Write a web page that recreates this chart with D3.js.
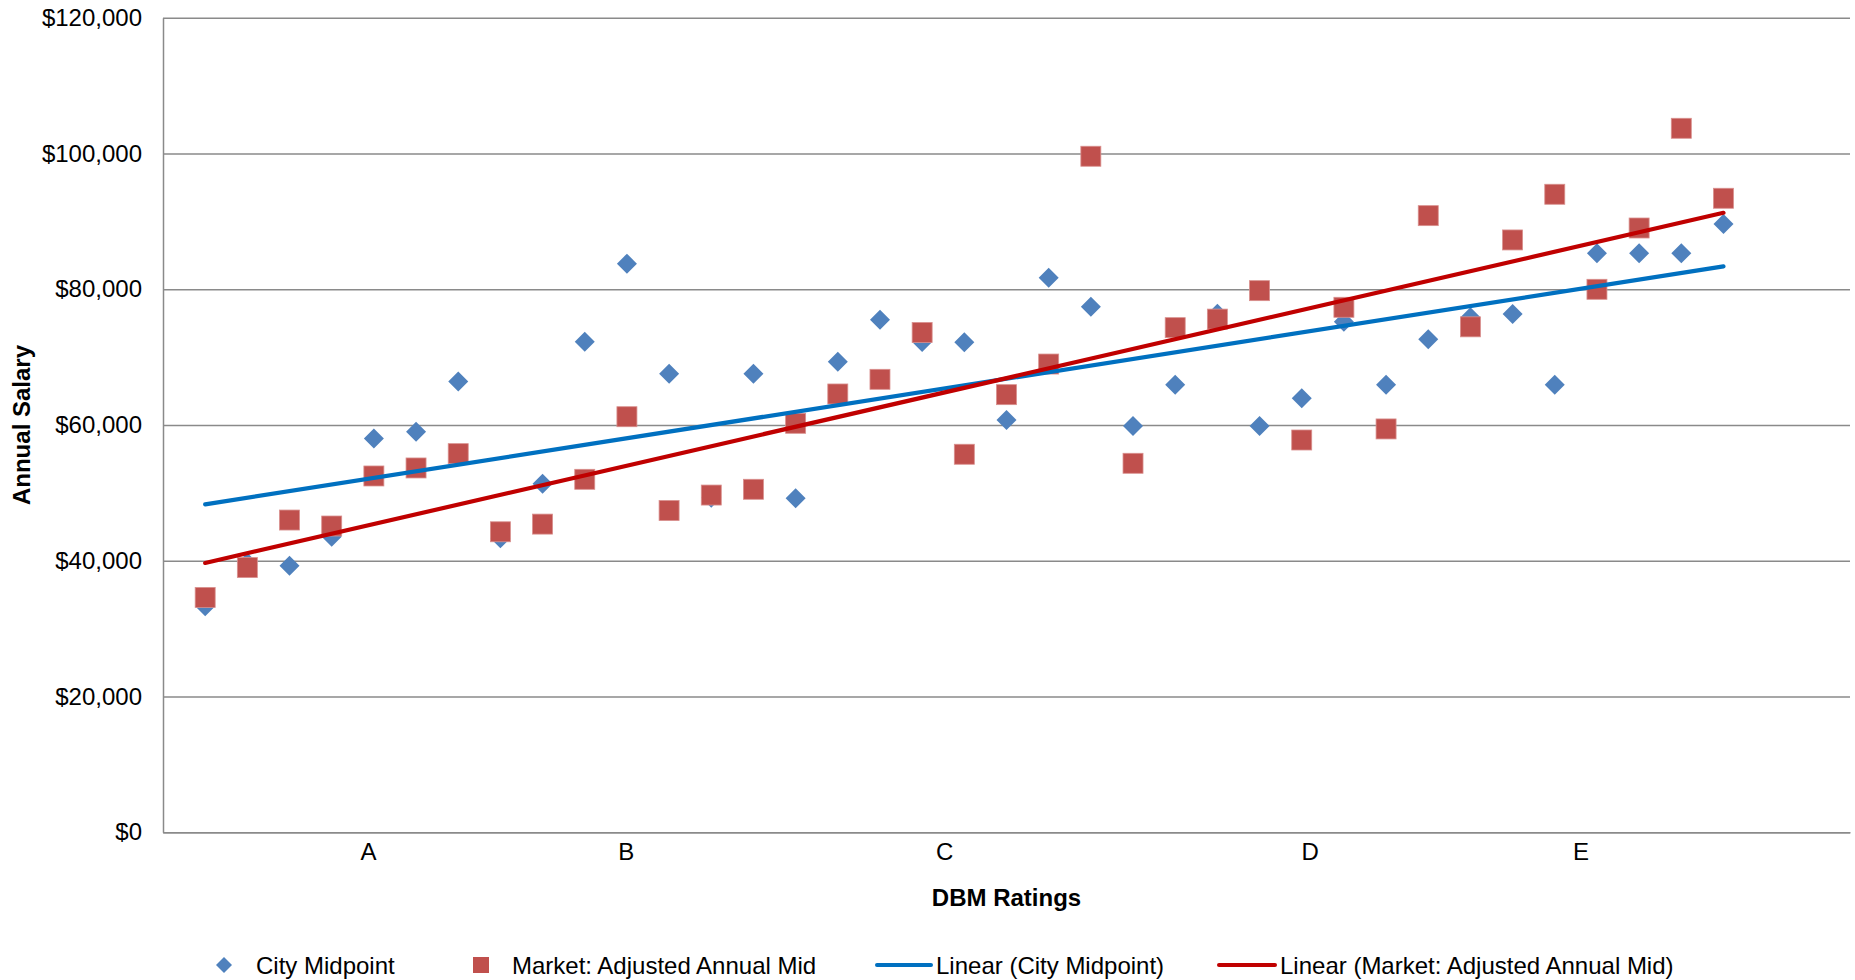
<!DOCTYPE html>
<html>
<head>
<meta charset="utf-8">
<script src="https://cdn.jsdelivr.net/npm/d3@7/dist/d3.min.js"></script>
<style>
  html, body { margin: 0; padding: 0; background: #ffffff; }
  svg { display: block; font-family: "Liberation Sans", Arial, sans-serif; }
</style>
</head>
<body>
<svg id="chart" width="1855" height="980"></svg>
<script>
// Salary midpoints for each position, ordered by DBM rating
const positions = d3.range(1, 38);
const cityMidpoint = [33300, 39700, 39250, 43550, 58000, 59000, 66400, 43300, 51350, 72270,
  83770, 67560, 49300, 67560, 49200, 69330, 75520, 72230, 72180, 60740,
  81700, 77420, 59860, 65940, 76400, 59860, 63930, 75200, 65940, 72650,
  75870, 76360, 65940, 85300, 85300, 85300, 89610];
const marketAdjusted = [34600, 39000, 46000, 45120, 52490, 53670, 55780, 44270, 45400, 52000,
  61220, 47400, 49680, 50530, 60250, 64570, 66730, 73630, 55690, 64470,
  68980, 99590, 54360, 74340, 75600, 79790, 57790, 77340, 59420, 90840,
  74460, 87260, 93990, 79990, 89020, 103710, 93400];

// Rating groups along the horizontal axis
const ratingLabels = ["A", "B", "C", "D", "E"];
const ratingPositions = [4.86, 10.97, 18.52, 27.19, 33.61];
const yTicks = [0, 20000, 40000, 60000, 80000, 100000, 120000];

const seriesNames = ["City Midpoint", "Market: Adjusted Annual Mid"];

const svg = d3.select("#chart");
const plot = { left: 163, right: 1850, top: 17.7, bottom: 832.3 };

const x = d3.scaleLinear().domain([0, 40]).range([plot.left, plot.right]);
const y = d3.scaleLinear().domain([0, 120000]).range([plot.bottom, plot.top]);

const FONT = 24;
const gridColor = "#8a8a8a";

// Horizontal gridlines
const grid = svg.append("g")
  .attr("transform", `translate(${plot.left},0)`)
  .call(d3.axisLeft(y).tickValues(yTicks).tickSize(-(plot.right - plot.left)).tickFormat(""));
grid.select(".domain").remove();
grid.selectAll("line").attr("stroke", gridColor).attr("stroke-width", 1.5);

// Value axis
const yAxis = svg.append("g")
  .attr("transform", `translate(${plot.left},0)`)
  .call(d3.axisLeft(y).tickValues(yTicks).tickSize(0).tickPadding(21).tickFormat(d3.format("$,")));
yAxis.select(".domain").attr("stroke", gridColor).attr("stroke-width", 1.5);
yAxis.selectAll("text").attr("font-size", FONT).attr("fill", "#000")
  .attr("font-family", "'Liberation Sans', Arial, sans-serif");

// Rating axis
const xAxis = svg.append("g")
  .attr("transform", `translate(0,${plot.bottom})`)
  .call(d3.axisBottom(x).tickValues(ratingPositions).tickSize(0).tickPadding(11)
    .tickFormat((d, i) => ratingLabels[i]));
xAxis.select(".domain").attr("stroke", gridColor).attr("stroke-width", 1.5);
xAxis.selectAll("text").attr("font-size", FONT).attr("fill", "#000")
  .attr("font-family", "'Liberation Sans', Arial, sans-serif");

// Axis titles
svg.append("text")
  .attr("x", 1006.5).attr("y", 897)
  .attr("text-anchor", "middle").attr("dominant-baseline", "central")
  .attr("font-size", FONT).attr("font-weight", "bold")
  .text("DBM Ratings");

svg.append("text")
  .attr("transform", `translate(21,${(plot.top + plot.bottom) / 2}) rotate(-90)`)
  .attr("text-anchor", "middle").attr("dominant-baseline", "central")
  .attr("font-size", FONT).attr("font-weight", "bold")
  .text("Annual Salary");

const blue = "#4f81bd", red = "#c0504d";
const blueTrend = "#0070c0", redTrend = "#c00000";
const diamond = d3.symbol().type(d3.symbolSquare).size(200);

// City midpoint markers (diamonds)
svg.append("g").selectAll("path")
  .data(positions.map((p, i) => [p, cityMidpoint[i]]))
  .join("path")
  .attr("d", diamond)
  .attr("transform", d => `translate(${x(d[0])},${y(d[1])}) rotate(45)`)
  .attr("fill", blue);

// Market-adjusted markers (squares)
const sq = 20;
svg.append("g").selectAll("rect")
  .data(positions.map((p, i) => [p, marketAdjusted[i]]))
  .join("rect")
  .attr("x", d => x(d[0]) - sq / 2)
  .attr("y", d => y(d[1]) - sq / 2)
  .attr("width", sq).attr("height", sq)
  .attr("fill", red)
  .attr("stroke", "#d9908e").attr("stroke-width", 0.8);

// Least-squares trend line over the positions
function linearFit(xs, ys) {
  const mx = d3.mean(xs), my = d3.mean(ys);
  const sxy = d3.sum(xs, (v, i) => (v - mx) * (ys[i] - my));
  const sxx = d3.sum(xs, v => (v - mx) * (v - mx));
  const slope = sxy / sxx;
  return v => my + slope * (v - mx);
}
const line = d3.line().x(d => x(d[0])).y(d => y(d[1]));
const x0 = d3.min(positions), x1 = d3.max(positions);
[[cityMidpoint, blueTrend], [marketAdjusted, redTrend]].forEach(([vals, color]) => {
  const f = linearFit(positions, vals);
  svg.append("path")
    .attr("d", line([[x0, f(x0)], [x1, f(x1)]]))
    .attr("fill", "none").attr("stroke", color)
    .attr("stroke-width", 4.2).attr("stroke-linecap", "round");
});

// Legend
const legendY = 965;
const lg = svg.append("g").attr("font-size", FONT);
lg.append("path").attr("d", d3.symbol().type(d3.symbolSquare).size(128))
  .attr("transform", `translate(224,${legendY}) rotate(45)`).attr("fill", blue);
lg.append("text").attr("x", 256).attr("y", legendY).attr("dominant-baseline", "central").text(seriesNames[0]);
lg.append("rect").attr("x", 473).attr("y", legendY - 8).attr("width", 16).attr("height", 16).attr("fill", red);
lg.append("text").attr("x", 512).attr("y", legendY).attr("dominant-baseline", "central").text(seriesNames[1]);
lg.append("line").attr("x1", 877).attr("x2", 931).attr("y1", legendY).attr("y2", legendY)
  .attr("stroke", blueTrend).attr("stroke-width", 4).attr("stroke-linecap", "round");
lg.append("text").attr("x", 936).attr("y", legendY).attr("dominant-baseline", "central").text(`Linear (${seriesNames[0]})`);
lg.append("line").attr("x1", 1219).attr("x2", 1275).attr("y1", legendY).attr("y2", legendY)
  .attr("stroke", redTrend).attr("stroke-width", 4).attr("stroke-linecap", "round");
lg.append("text").attr("x", 1280).attr("y", legendY).attr("dominant-baseline", "central").text(`Linear (${seriesNames[1]})`);
</script>
</body>
</html>
